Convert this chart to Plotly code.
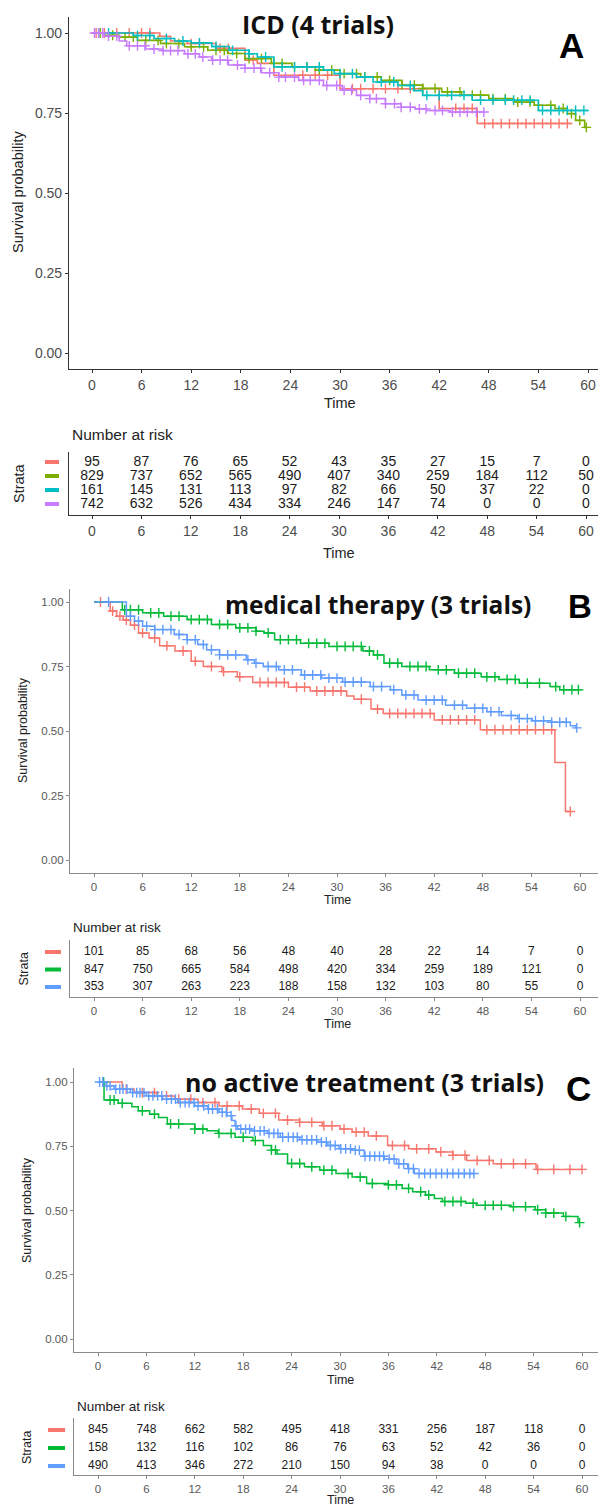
import plotly.graph_objects as go

W, H = 600, 1508

time_ticks = [0, 6, 12, 18, 24, 30, 36, 42, 48, 54, 60]
surv_ticks = [0.0, 0.25, 0.5, 0.75, 1.0]
surv_ticktext = ["0.00", "0.25", "0.50", "0.75", "1.00"]

# ---------------- Panel A: ICD (4 trials) ----------------
a_title = "ICD (4 trials)"
a_colors = ["#F8766D", "#7CAE00", "#00BFC4", "#C77CFF"]

a1_t = [0, 8.2, 9.5, 11.5, 15.0, 18.5, 20.0, 22.0, 30.0, 42.0, 46.6]
a1_s = [1.0, 0.99, 0.975, 0.967, 0.952, 0.915, 0.905, 0.868, 0.826, 0.764, 0.717]
a1_end = 58.0
a1_c = [0.5, 1.5, 3, 4.5, 6, 7, 12, 13, 15.5, 16.5, 19.5, 25.5, 27, 28.5, 31.5, 32.5, 34, 35.5,
        37, 38.5, 40, 44, 45, 46, 47.5, 48.5, 49.5, 50.5, 51.5, 52.5, 53.5, 54.5, 55.5, 56.5, 57.5]

a2_t = [0, 1.5, 3.3, 5.5, 8.3, 11.2, 14, 16.4, 18.5, 21.7, 24.2, 27, 30, 32.5, 35, 37.5, 40,
        42.3, 44.7, 48, 51, 53.5, 56, 57.5, 58.5, 59.6]
a2_s = [1.0, 0.993, 0.987, 0.977, 0.967, 0.957, 0.946, 0.936, 0.92, 0.905, 0.894, 0.884, 0.873,
        0.863, 0.852, 0.837, 0.827, 0.816, 0.806, 0.795, 0.784, 0.774, 0.764, 0.748, 0.727, 0.705]
a2_end = 59.9
a2_c = [1, 2.5, 4, 5, 6.5, 8, 9, 10.5, 12, 13.5, 15, 16, 17.5, 19, 20.5, 22, 23, 24.5, 26, 27.5,
        29, 30.5, 32, 33, 34.5, 36, 37.5, 39, 40, 41.5, 43, 44.5, 46, 47, 48.5, 50, 51.5, 53, 54,
        55.5, 57, 58, 59, 59.8]

a3_t = [0, 5, 7.5, 10, 12, 14.5, 16.6, 19, 20, 22, 28, 29.3, 32, 34, 37, 38.9, 40, 46, 54]
a3_s = [1.0, 0.992, 0.983, 0.975, 0.969, 0.958, 0.946, 0.935, 0.925, 0.894, 0.884, 0.873, 0.862,
        0.847, 0.836, 0.82, 0.805, 0.79, 0.758]
a3_end = 60.0
a3_c = [0.8, 2, 5.5, 7, 9, 11, 13, 15, 17, 19, 21, 23, 24.5, 26, 27.5, 30, 31.5, 33, 35, 36.5,
        38.5, 40.5, 42, 43.5, 45, 47, 48.5, 50, 51, 52, 53, 54.5, 55.5, 56.5, 57.5, 58.5, 59.5]

a4_t = [0, 1.5, 3.3, 4.2, 6.5, 8.5, 11.2, 13, 14.5, 16.5, 18.5, 20.5, 22.6, 25, 28, 30.3, 32,
        33.6, 35.5, 37.4, 39.1, 40.5, 43.3]
a4_s = [1.0, 0.99, 0.975, 0.96, 0.95, 0.945, 0.935, 0.925, 0.915, 0.9, 0.89, 0.876, 0.862, 0.852,
        0.836, 0.821, 0.805, 0.795, 0.779, 0.768, 0.763, 0.758, 0.753]
a4_end = 47.5
a4_c = [0.3, 0.8, 1.3, 2, 3, 4.5, 5.5, 6.4, 7.5, 8.6, 9.5, 10.4, 11.6, 12.5, 13.4, 14.6, 15.5,
        16.4, 17.6, 18.5, 19.6, 20.4, 21.5, 22.6, 23.4, 24.5, 25.6, 26.4, 27.5, 28.4, 29.6, 30.5,
        31.4, 32.5, 33.6, 34.4, 35.5, 36.6, 37.4, 38.5, 39.6, 40.4, 41.5, 42.4, 43.6, 44.5, 45.4,
        46.5, 47.4]

a_risk = [[95, 87, 76, 65, 52, 43, 35, 27, 15, 7, 0],
          [829, 737, 652, 565, 490, 407, 340, 259, 184, 112, 50],
          [161, 145, 131, 113, 97, 82, 66, 50, 37, 22, 0],
          [742, 632, 526, 434, 334, 246, 147, 74, 0, 0, 0]]

# ---------------- Panel B: medical therapy (3 trials) ----------------
b_title = "medical therapy (3 trials)"
b_colors = ["#F8766D", "#00BA38", "#619CFF"]

b1_t = [0, 2, 2.8, 3.6, 4.5, 5.5, 6.8, 8.1, 10, 12, 13.5, 15.8, 17.7, 19.6, 24, 26.7, 31.2, 32.1,
        34.2, 35.7, 42, 47.7, 56.9, 58.2]
b1_s = [1.0, 0.965, 0.945, 0.93, 0.91, 0.88, 0.86, 0.83, 0.81, 0.77, 0.75, 0.73, 0.71, 0.688,
        0.67, 0.655, 0.636, 0.623, 0.585, 0.568, 0.543, 0.505, 0.378, 0.188]
b1_end = 58.8
b1_c = [0.8, 2.3, 3.2, 4, 5, 6, 7.5, 9, 11, 12.5, 14.5, 16, 18, 20.5, 21.5, 22.5, 23.5, 25, 26,
        27.5, 28.5, 29.5, 30.5, 33, 35, 36.5, 37.5, 38.5, 39.5, 40.5, 41.5, 43, 44, 45, 46, 47,
        48.5, 49.5, 50.5, 51.5, 52.5, 53.5, 54.5, 55.5, 56.5, 58.8]

b2_t = [0, 3.5, 6, 8.6, 11.5, 14.5, 17.5, 20, 21, 22.3, 25.5, 29, 33.2, 34.5, 35.8, 38, 41.4,
        44.5, 47.8, 50, 52.5, 56.3, 57.5]
b2_s = [1.0, 0.97, 0.958, 0.945, 0.932, 0.913, 0.9, 0.887, 0.88, 0.854, 0.84, 0.828, 0.81,
        0.795, 0.763, 0.75, 0.737, 0.724, 0.71, 0.7, 0.685, 0.672, 0.66]
b2_end = 60.0
b2_c = [3.8, 4.5, 5.5, 7, 8, 9.5, 10.5, 12, 13, 14, 15.5, 16.5, 18, 19, 20, 21.5, 23, 24, 25,
        26.5, 27.5, 28.5, 30, 31, 32, 33, 34, 35, 36.5, 37.5, 39, 40, 41, 42.5, 43.5, 45, 46, 47,
        48.5, 49.5, 51, 52, 53.5, 55, 57, 58, 59, 59.8]

b3_t = [0, 4, 5, 6, 7.5, 9.9, 11.5, 12.8, 13.9, 15.5, 18.8, 19.8, 20.9, 22.8, 25.6, 28.1, 30.7,
        34.1, 36.6, 38, 40, 43.4, 46, 48.5, 50.3, 52.3, 54.1, 56.5, 58.8, 59.5]
b3_s = [1.0, 0.945, 0.926, 0.906, 0.893, 0.874, 0.854, 0.835, 0.815, 0.795, 0.776, 0.763, 0.75,
        0.737, 0.717, 0.705, 0.69, 0.672, 0.66, 0.64, 0.62, 0.6, 0.588, 0.575, 0.56, 0.548,
        0.54, 0.534, 0.52, 0.512]
b3_end = 59.6
b3_c = [1.8, 4.5, 5.5, 6.5, 7.5, 8.5, 9.5, 10.5, 11.5, 12.5, 13.5, 14.5, 15.5, 16.5, 17.5, 19,
        20, 21.5, 22.5, 23.5, 24.5, 26, 27, 28, 29, 30, 31, 32, 33, 34.5, 35.5, 37, 38.5, 39.5,
        41, 42, 43, 44.5, 45.5, 47, 48, 49, 50, 51.5, 52.5, 53.5, 54.5, 55.5, 56.5, 57.5, 58.3,
        59.6]

b_risk = [[101, 85, 68, 56, 48, 40, 28, 22, 14, 7, 0],
          [847, 750, 665, 584, 498, 420, 334, 259, 189, 121, 0],
          [353, 307, 263, 223, 188, 158, 132, 103, 80, 55, 0]]

# ---------------- Panel C: no active treatment (3 trials) ----------------
c_title = "no active treatment (3 trials)"
c_colors = ["#F8766D", "#00BA38", "#619CFF"]

c1_t = [0, 3, 4.5, 7.3, 9.5, 12.4, 15, 17.9, 20, 22.4, 25, 27.8, 30, 31.5, 33.5, 35.9, 38.5,
        41.9, 44, 45.7, 49, 54.3]
c1_s = [1.0, 0.972, 0.959, 0.946, 0.933, 0.92, 0.907, 0.895, 0.878, 0.852, 0.843, 0.83, 0.817,
        0.805, 0.79, 0.753, 0.74, 0.728, 0.715, 0.695, 0.682, 0.66]
c1_end = 60.0
c1_c = [3.5, 5.5, 7, 8.5, 10, 11.5, 13, 14.5, 16, 17.5, 19, 20.5, 22, 23.5, 25, 26.5, 28, 29,
        30.5, 32, 33, 34.5, 36.5, 38, 39.5, 41, 42.5, 44, 45.5, 47, 48.5, 50, 51.5, 53, 54.5,
        56.5, 58.5, 60]

c2_t = [0, 0.75, 2.5, 4.2, 5, 6.4, 7.5, 8.6, 12, 13.5, 14.9, 17, 19.2, 20.5, 21.5, 22.2, 23.5,
        25.6, 27.5, 29.5, 31.5, 33.3, 36, 37.7, 39, 40.6, 41.7, 42.7, 45.6, 46.9, 51.2, 54.2,
        55.5, 57.7, 59.5]
c2_s = [1.0, 0.93, 0.917, 0.904, 0.888, 0.875, 0.862, 0.837, 0.817, 0.81, 0.8, 0.785, 0.772,
        0.753, 0.735, 0.72, 0.683, 0.67, 0.657, 0.644, 0.63, 0.605, 0.6, 0.586, 0.573, 0.56,
        0.547, 0.535, 0.528, 0.52, 0.515, 0.503, 0.49, 0.477, 0.453]
c2_end = 59.7
c2_c = [0.7, 1.5, 2, 3, 5.5, 7, 9, 10, 12, 13, 15, 16.5, 18, 19.5, 21.5, 22, 24, 25, 26.5, 28,
        29, 31, 32.5, 34, 36, 37, 38.5, 40, 41, 43, 44, 45, 46.5, 48, 49, 50, 51.5, 53, 54.5,
        55.5, 56.5, 58, 59.7]

c3_t = [0, 1, 2, 4, 6, 8, 9.9, 12, 13.6, 15, 16, 16.6, 17, 17.3, 19, 21, 22.6, 25, 27.2, 28.5,
        29.9, 31.5, 33, 35.5, 37, 38.4, 39.2]
c3_s = [1.0, 0.985, 0.972, 0.959, 0.946, 0.933, 0.92, 0.907, 0.895, 0.882, 0.869, 0.85, 0.83,
        0.817, 0.81, 0.8, 0.785, 0.775, 0.766, 0.753, 0.74, 0.734, 0.711, 0.7, 0.682, 0.663, 0.644]
c3_end = 46.6
c3_c = [0.2, 0.6, 1.1, 1.5, 2.2, 2.7, 3.1, 3.6, 4.3, 4.8, 5.2, 5.7, 6.3, 6.8, 7.4, 7.9, 8.5,
        9.1, 9.6, 10.2, 10.8, 11.3, 11.9, 12.4, 13.1, 13.7, 14.2, 14.8, 15.4, 15.9, 16.5, 17.1,
        17.7, 18.3, 18.8, 19.4, 20.1, 20.6, 21.2, 21.8, 22.3, 22.9, 23.6, 24.2, 24.7, 25.3, 25.9,
        26.5, 27.1, 27.7, 28.3, 28.8, 29.4, 30.1, 30.7, 31.3, 31.9, 32.4, 33.1, 33.7, 34.3, 34.9,
        35.4, 36.1, 36.7, 37.3, 37.9, 38.5, 39.1, 39.8, 40.5, 41.2, 41.9, 42.6, 43.3, 44.0, 44.7,
        45.4, 46.1, 46.6]

c_risk = [[845, 748, 662, 582, 495, 418, 331, 256, 187, 118, 0],
          [158, 132, 116, 102, 86, 76, 63, 52, 42, 36, 0],
          [490, 413, 346, 272, 210, 150, 94, 38, 0, 0, 0]]

# =====================================================================
AX = "Liberation Sans"
TITLE_FONT = "Open Sans"


def px2x(px):
    return px / W


def px2y(py):
    return 1 - py / H


def axis_range(p0, p1, va, pa, vb, pb):
    s = (pb - pa) / (vb - va)
    return [va + (p0 - pa) / s, va + (p1 - pa) / s]


def step_at(times, surv, t):
    val = surv[0]
    for ti, si in zip(times, surv):
        if ti <= t:
            val = si
    return val


fig = go.Figure()
layout = dict(width=W, height=H, margin=dict(l=0, r=0, t=0, b=0),
              paper_bgcolor="white", plot_bgcolor="white", showlegend=False)
annotations = []
shapes = []


def ann(text, x, y, size, color="#222", xanchor="center", yanchor="middle", angle=0,
        family=AX, weight="normal"):
    annotations.append(dict(text=text, x=px2x(x), y=px2y(y), xref="paper", yref="paper",
                            showarrow=False, xanchor=xanchor, yanchor=yanchor, textangle=angle,
                            font=dict(size=size, color=color, family=family, weight=weight)))


panels = [
    dict(curves=[(a1_t, a1_s, a1_end, a1_c), (a2_t, a2_s, a2_end, a2_c),
                 (a3_t, a3_s, a3_end, a3_c), (a4_t, a4_s, a4_end, a4_c)],
         colors=a_colors, risk=a_risk, title=a_title, letter="A",
         plot=dict(x0=69, x1=598, y0=17, y1=369, t0=92, t60=588, s1=33, s0=353),
         tab=dict(y0=452, y1=515, rtop=462, rbot=504, t0=92, t60=586),
         axcol="#333333", tickcol="#4d4d4d", tickfs=14, labfs=14.5, numfs=14,
         title_xy=(318, 24, 25), letter_xy=(571, 45, 35),
         ylab_x=18, ylab_y=192, time_y=403, nar_y=435, strata_x=19, tab_lab_y=535,
         tab_time_y=553, dash_x=(45, 59), lw=1.6),
    dict(curves=[(b1_t, b1_s, b1_end, b1_c), (b2_t, b2_s, b2_end, b2_c),
                 (b3_t, b3_s, b3_end, b3_c)],
         colors=b_colors, risk=b_risk, title=b_title, letter="B",
         plot=dict(x0=70, x1=598, y0=589, y1=873, t0=94, t60=580, s1=602, s0=860),
         tab=dict(y0=940, y1=997, rtop=952, rbot=987, t0=94, t60=580),
         axcol="#8a8a8a", tickcol="#595959", tickfs=11.5, labfs=12.5, numfs=12,
         title_xy=(378, 605, 24.5), letter_xy=(580, 606, 33),
         ylab_x=23, ylab_y=730, time_y=900, nar_y=927, strata_x=23, tab_lab_y=1008,
         tab_time_y=1024, dash_x=(45, 61), lw=1.5),
    dict(curves=[(c1_t, c1_s, c1_end, c1_c), (c2_t, c2_s, c2_end, c2_c),
                 (c3_t, c3_s, c3_end, c3_c)],
         colors=c_colors, risk=c_risk, title=c_title, letter="C",
         plot=dict(x0=74, x1=598, y0=1068, y1=1352, t0=98, t60=582, s1=1082, s0=1339),
         tab=dict(y0=1418, y1=1475, rtop=1430, rbot=1466, t0=98, t60=582),
         axcol="#8a8a8a", tickcol="#595959", tickfs=11.5, labfs=12.5, numfs=12,
         title_xy=(365, 1082, 25), letter_xy=(578, 1088, 35),
         ylab_x=27, ylab_y=1210, time_y=1380, nar_y=1406, strata_x=27, tab_lab_y=1487,
         tab_time_y=1500, dash_x=(48, 65), lw=1.5),
]

for i, P in enumerate(panels):
    kx = 2 * i + 1
    kt = 2 * i + 2
    xa, ya = f"x{kx}", f"y{kx}"
    xt, yt = f"x{kt}", f"y{kt}"
    pl, tb = P["plot"], P["tab"]

    # --- KM curves ---
    for (t, s, end, cens), col in zip(P["curves"], P["colors"]):
        fig.add_trace(go.Scatter(x=list(t) + [end], y=list(s) + [s[-1]], mode="lines",
                                 line=dict(color=col, width=P["lw"], shape="hv"),
                                 xaxis=xa, yaxis=ya, hoverinfo="skip"))
        cy = [step_at(t, s, c) for c in cens]
        fig.add_trace(go.Scatter(x=cens, y=cy, mode="markers",
                                 marker=dict(symbol="cross-thin", size=7, color=col,
                                             line=dict(color=col, width=1.4)),
                                 xaxis=xa, yaxis=ya, hoverinfo="skip", cliponaxis=False))

    # --- risk table ---
    n = len(P["risk"])
    for r, (row, col) in enumerate(zip(P["risk"], P["colors"])):
        yv = n - r
        fig.add_trace(go.Scatter(x=time_ticks, y=[yv] * len(time_ticks), mode="text",
                                 text=[str(v) for v in row],
                                 textfont=dict(size=P["numfs"], color="#1a1a1a", family=AX),
                                 xaxis=xt, yaxis=yt, hoverinfo="skip", cliponaxis=False))
        shapes.append(dict(type="line", xref="paper", yref=yt,
                           x0=px2x(P["dash_x"][0]), x1=px2x(P["dash_x"][1]), y0=yv, y1=yv,
                           line=dict(color=col, width=4)))

    common_x = dict(showline=True, linecolor=P["axcol"], linewidth=1.1, ticks="outside",
                    ticklen=3, tickcolor=P["axcol"], tickvals=time_ticks, showgrid=False,
                    zeroline=False,
                    tickfont=dict(size=P["tickfs"], color=P["tickcol"], family=AX))
    layout[f"xaxis{kx}"] = dict(common_x, domain=[px2x(pl["x0"]), px2x(pl["x1"])],
                                range=axis_range(pl["x0"], pl["x1"], 0, pl["t0"], 60, pl["t60"]),
                                anchor=ya)
    yr = axis_range(pl["y1"], pl["y0"], 0, pl["s0"], 1, pl["s1"])
    layout[f"yaxis{kx}"] = dict(showline=True, linecolor=P["axcol"], linewidth=1.1,
                                ticks="outside", ticklen=3, tickcolor=P["axcol"],
                                tickvals=surv_ticks, ticktext=surv_ticktext, showgrid=False,
                                zeroline=False,
                                tickfont=dict(size=P["tickfs"], color=P["tickcol"], family=AX),
                                domain=[px2y(pl["y1"]), px2y(pl["y0"])], range=yr, anchor=xa)
    layout[f"xaxis{kt}"] = dict(common_x, domain=[px2x(pl["x0"]), px2x(pl["x1"])],
                                range=axis_range(pl["x0"], pl["x1"], 0, tb["t0"], 60, tb["t60"]),
                                anchor=yt)
    tr = axis_range(tb["y1"], tb["y0"], 1, tb["rbot"], n, tb["rtop"])
    layout[f"yaxis{kt}"] = dict(showline=True, linecolor=P["axcol"], linewidth=1.1,
                                showticklabels=False, ticks="", showgrid=False, zeroline=False,
                                domain=[px2y(tb["y1"]), px2y(tb["y0"])], range=tr, anchor=xt)

    # --- texts ---
    tx, ty, tfs = P["title_xy"]
    ann(P["title"], tx, ty, tfs, color="#111", family=TITLE_FONT, weight="bold")
    lx, ly, lfs = P["letter_xy"]
    ann(P["letter"], lx, ly, lfs, color="#000", family="Liberation Sans", weight="bold")
    ann("Survival probability", P["ylab_x"], P["ylab_y"], P["labfs"], color="#222", angle=-90)
    ann("Time", (pl["t0"] + pl["t60"]) / 2, P["time_y"], P["labfs"], color="#222")
    ann("Number at risk", pl["x0"] + 1, P["nar_y"], P["labfs"] + 1, color="#222", xanchor="left")
    ann("Strata", P["strata_x"], (tb["rtop"] + tb["rbot"]) / 2, P["labfs"], color="#222",
        angle=-90)
    ann("Time", (tb["t0"] + tb["t60"]) / 2, P["tab_time_y"], P["labfs"], color="#222")

layout["annotations"] = annotations
layout["shapes"] = shapes
fig.update_layout(**layout)
fig.write_html("out.html", config={"displayModeBar": False},
               post_script="document.body.style.margin='0';"
                           "document.body.style.overflow='hidden';")
